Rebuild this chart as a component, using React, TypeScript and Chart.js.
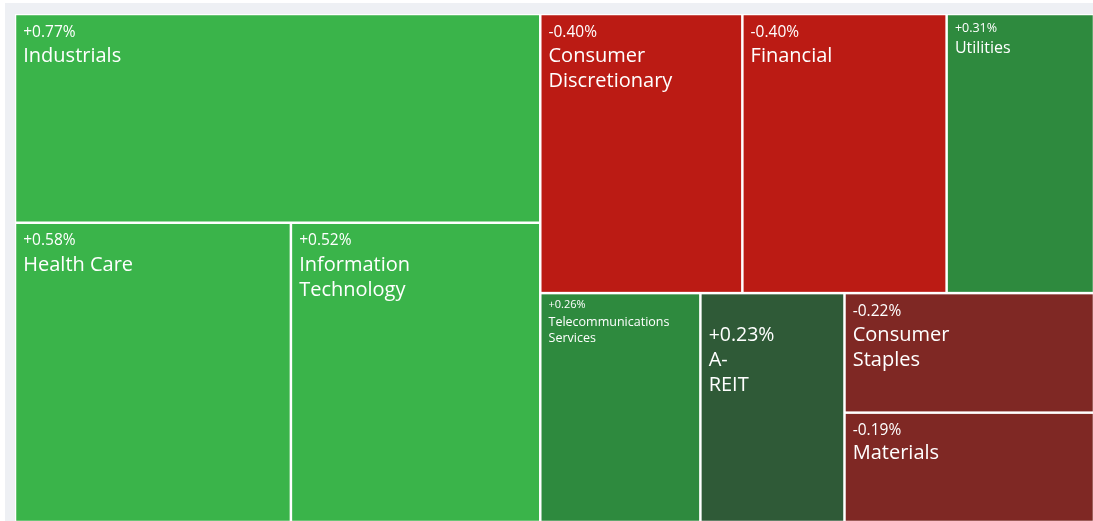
import React, { useEffect, useRef } from "react";
import { Chart, registerables } from "chart.js";

Chart.register(...registerables);

// ---- data ----
const SECTORS = [
  "Industrials",
  "Health Care",
  "Information Technology",
  "Consumer Discretionary",
  "Financial",
  "Utilities",
  "Telecommunications Services",
  "A-REIT",
  "Consumer Staples",
  "Materials",
];
const LABEL_LINES = [
  ["Industrials"],
  ["Health Care"],
  ["Information", "Technology"],
  ["Consumer", "Discretionary"],
  ["Financial"],
  ["Utilities"],
  ["Telecommunications", "Services"],
  ["A-", "REIT"],
  ["Consumer", "Staples"],
  ["Materials"],
];
const WEIGHTS = [107.7, 81.1, 73.3, 55.4, 56.0, 40.4, 36.0, 32.4, 29.3, 26.8];
const CHANGES = [0.77, 0.58, 0.52, -0.4, -0.4, 0.31, 0.26, 0.23, -0.22, -0.19];

// ---- label styles (font sizes / offsets inside each cell) ----
const DEFAULT_STYLE = { pct: 15.5, name: 20, pctY: 21.5, nameY: 47, lead: 25 };
const LABEL_STYLE = [
  DEFAULT_STYLE,
  DEFAULT_STYLE,
  DEFAULT_STYLE,
  DEFAULT_STYLE,
  DEFAULT_STYLE,
  { pct: 12.5, name: 16, pctY: 17, nameY: 38, lead: 20 },
  { pct: 11, name: 12.5, pctY: 14, nameY: 32, lead: 15.5 },
  { pct: 19.5, name: 20, pctY: 47, nameY: 72, lead: 24.5 },
  DEFAULT_STYLE,
  { pct: 15.5, name: 20, pctY: 21.5, nameY: 45, lead: 25 },
];

const FONT = '"Open Sans", "Noto Sans", sans-serif';
const SPLIT_RATIO = 1.2;
const GAP = 1.25;

function colorFor(c: number): string {
  if (c >= 0.5) return "#3AB44A";
  if (c >= 0.25) return "#2E8A3E";
  if (c >= 0) return "#2F5A37";
  if (c <= -0.3) return "#BB1B14";
  return "#7F2824";
}

type Rect = { x0: number; y0: number; x1: number; y1: number };

// binary treemap partition (d3-style), in unit space; aspect = px width / px height
function binaryLayout(values: number[], aspect: number): Rect[] {
  const out: Rect[] = new Array(values.length);
  const sums = [0];
  for (let i = 0; i < values.length; i++) sums.push(sums[i] + values[i]);
  function partition(i: number, j: number, value: number, x0: number, y0: number, x1: number, y1: number) {
    if (i >= j - 1) {
      out[i] = { x0, y0, x1, y1 };
      return;
    }
    const valueOffset = sums[i];
    const valueTarget = value / 2 + valueOffset;
    let k = i + 1;
    let hi = j - 1;
    while (k < hi) {
      const mid = (k + hi) >>> 1;
      if (sums[mid] < valueTarget) k = mid + 1;
      else hi = mid;
    }
    if (valueTarget - sums[k - 1] < sums[k] - valueTarget && i + 1 < k) --k;
    const valueLeft = sums[k] - valueOffset;
    const valueRight = value - valueLeft;
    if ((x1 - x0) * aspect > (y1 - y0) * SPLIT_RATIO) {
      const xk = (x0 * valueRight + x1 * valueLeft) / value;
      partition(i, k, valueLeft, x0, y0, xk, y1);
      partition(k, j, valueRight, xk, y0, x1, y1);
    } else {
      const yk = (y0 * valueRight + y1 * valueLeft) / value;
      partition(i, k, valueLeft, x0, y0, x1, yk);
      partition(k, j, valueRight, x0, yk, x1, y1);
    }
  }
  partition(0, values.length, sums[values.length], 0, 0, 1, 1);
  return out;
}

const treemapPlugin = {
  id: "treemapCells",
  afterDatasetsDraw(chart: any) {
    const { ctx, chartArea } = chart;
    const xs = chart.scales.x;
    const ys = chart.scales.y;
    const ds = chart.data.datasets[0];
    const values: number[] = ds.weights;
    const changes: number[] = ds.changes;
    const aspect = (chartArea.right - chartArea.left) / (chartArea.bottom - chartArea.top);
    const rects = binaryLayout(values, aspect);
    ctx.save();
    rects.forEach((r, i) => {
      const left = xs.getPixelForValue(r.x0) + GAP;
      const right = xs.getPixelForValue(r.x1) - GAP;
      const top = ys.getPixelForValue(r.y0) + GAP;
      const bottom = ys.getPixelForValue(r.y1) - GAP;
      ctx.fillStyle = colorFor(changes[i]);
      ctx.fillRect(left, top, right - left, bottom - top);

      const st = LABEL_STYLE[i];
      const c = changes[i];
      const pctText = (c >= 0 ? "+" : "-") + Math.abs(c).toFixed(2) + "%";
      ctx.fillStyle = "#ffffff";
      ctx.textAlign = "left";
      ctx.textBaseline = "alphabetic";
      ctx.font = `${st.pct}px ${FONT}`;
      ctx.fillText(pctText, left + 7, top + st.pctY);
      ctx.font = `${st.name}px ${FONT}`;
      LABEL_LINES[i].forEach((line, li) => {
        ctx.fillText(line, left + 7, top + st.nameY + li * st.lead);
      });
    });
    ctx.restore();
  },
};

export default function App() {
  const canvasRef = useRef<HTMLCanvasElement | null>(null);

  useEffect(() => {
    if (!canvasRef.current) return;
    const chart = new Chart(canvasRef.current, {
      type: "scatter",
      data: {
        datasets: [
          {
            label: "ASX sectors",
            data: [],
            weights: WEIGHTS,
            changes: CHANGES,
            names: SECTORS,
            pointRadius: 0,
          } as any,
        ],
      },
      options: {
        animation: false,
        responsive: false,
        devicePixelRatio: 1,
        events: [],
        layout: { padding: 0 },
        scales: {
          x: { type: "linear", min: 0, max: 1, display: false },
          y: { type: "linear", min: 0, max: 1, reverse: true, display: false },
        },
        plugins: { legend: { display: false }, tooltip: { enabled: false } },
      },
      plugins: [treemapPlugin],
    });
    const fonts: any = (document as any).fonts;
    if (fonts && fonts.load) {
      Promise.all([fonts.load(`20px "Open Sans"`)]).then(() => chart.update()).catch(() => {});
    }
    return () => chart.destroy();
  }, []);

  return (
    <div
      style={{
        position: "fixed",
        left: 0,
        top: 0,
        width: 1093,
        height: 521,
        overflow: "hidden",
        background: "#ffffff",
      }}
    >
      <div
        style={{
          position: "absolute",
          left: 5,
          top: 3,
          width: 1200,
          height: 600,
          background: "#eef0f4",
        }}
      />
      <canvas
        ref={canvasRef}
        width={1079}
        height={508}
        style={{ position: "absolute", left: 15, top: 14, width: 1079, height: 508, background: "#ffffff" }}
      />
    </div>
  );
}
